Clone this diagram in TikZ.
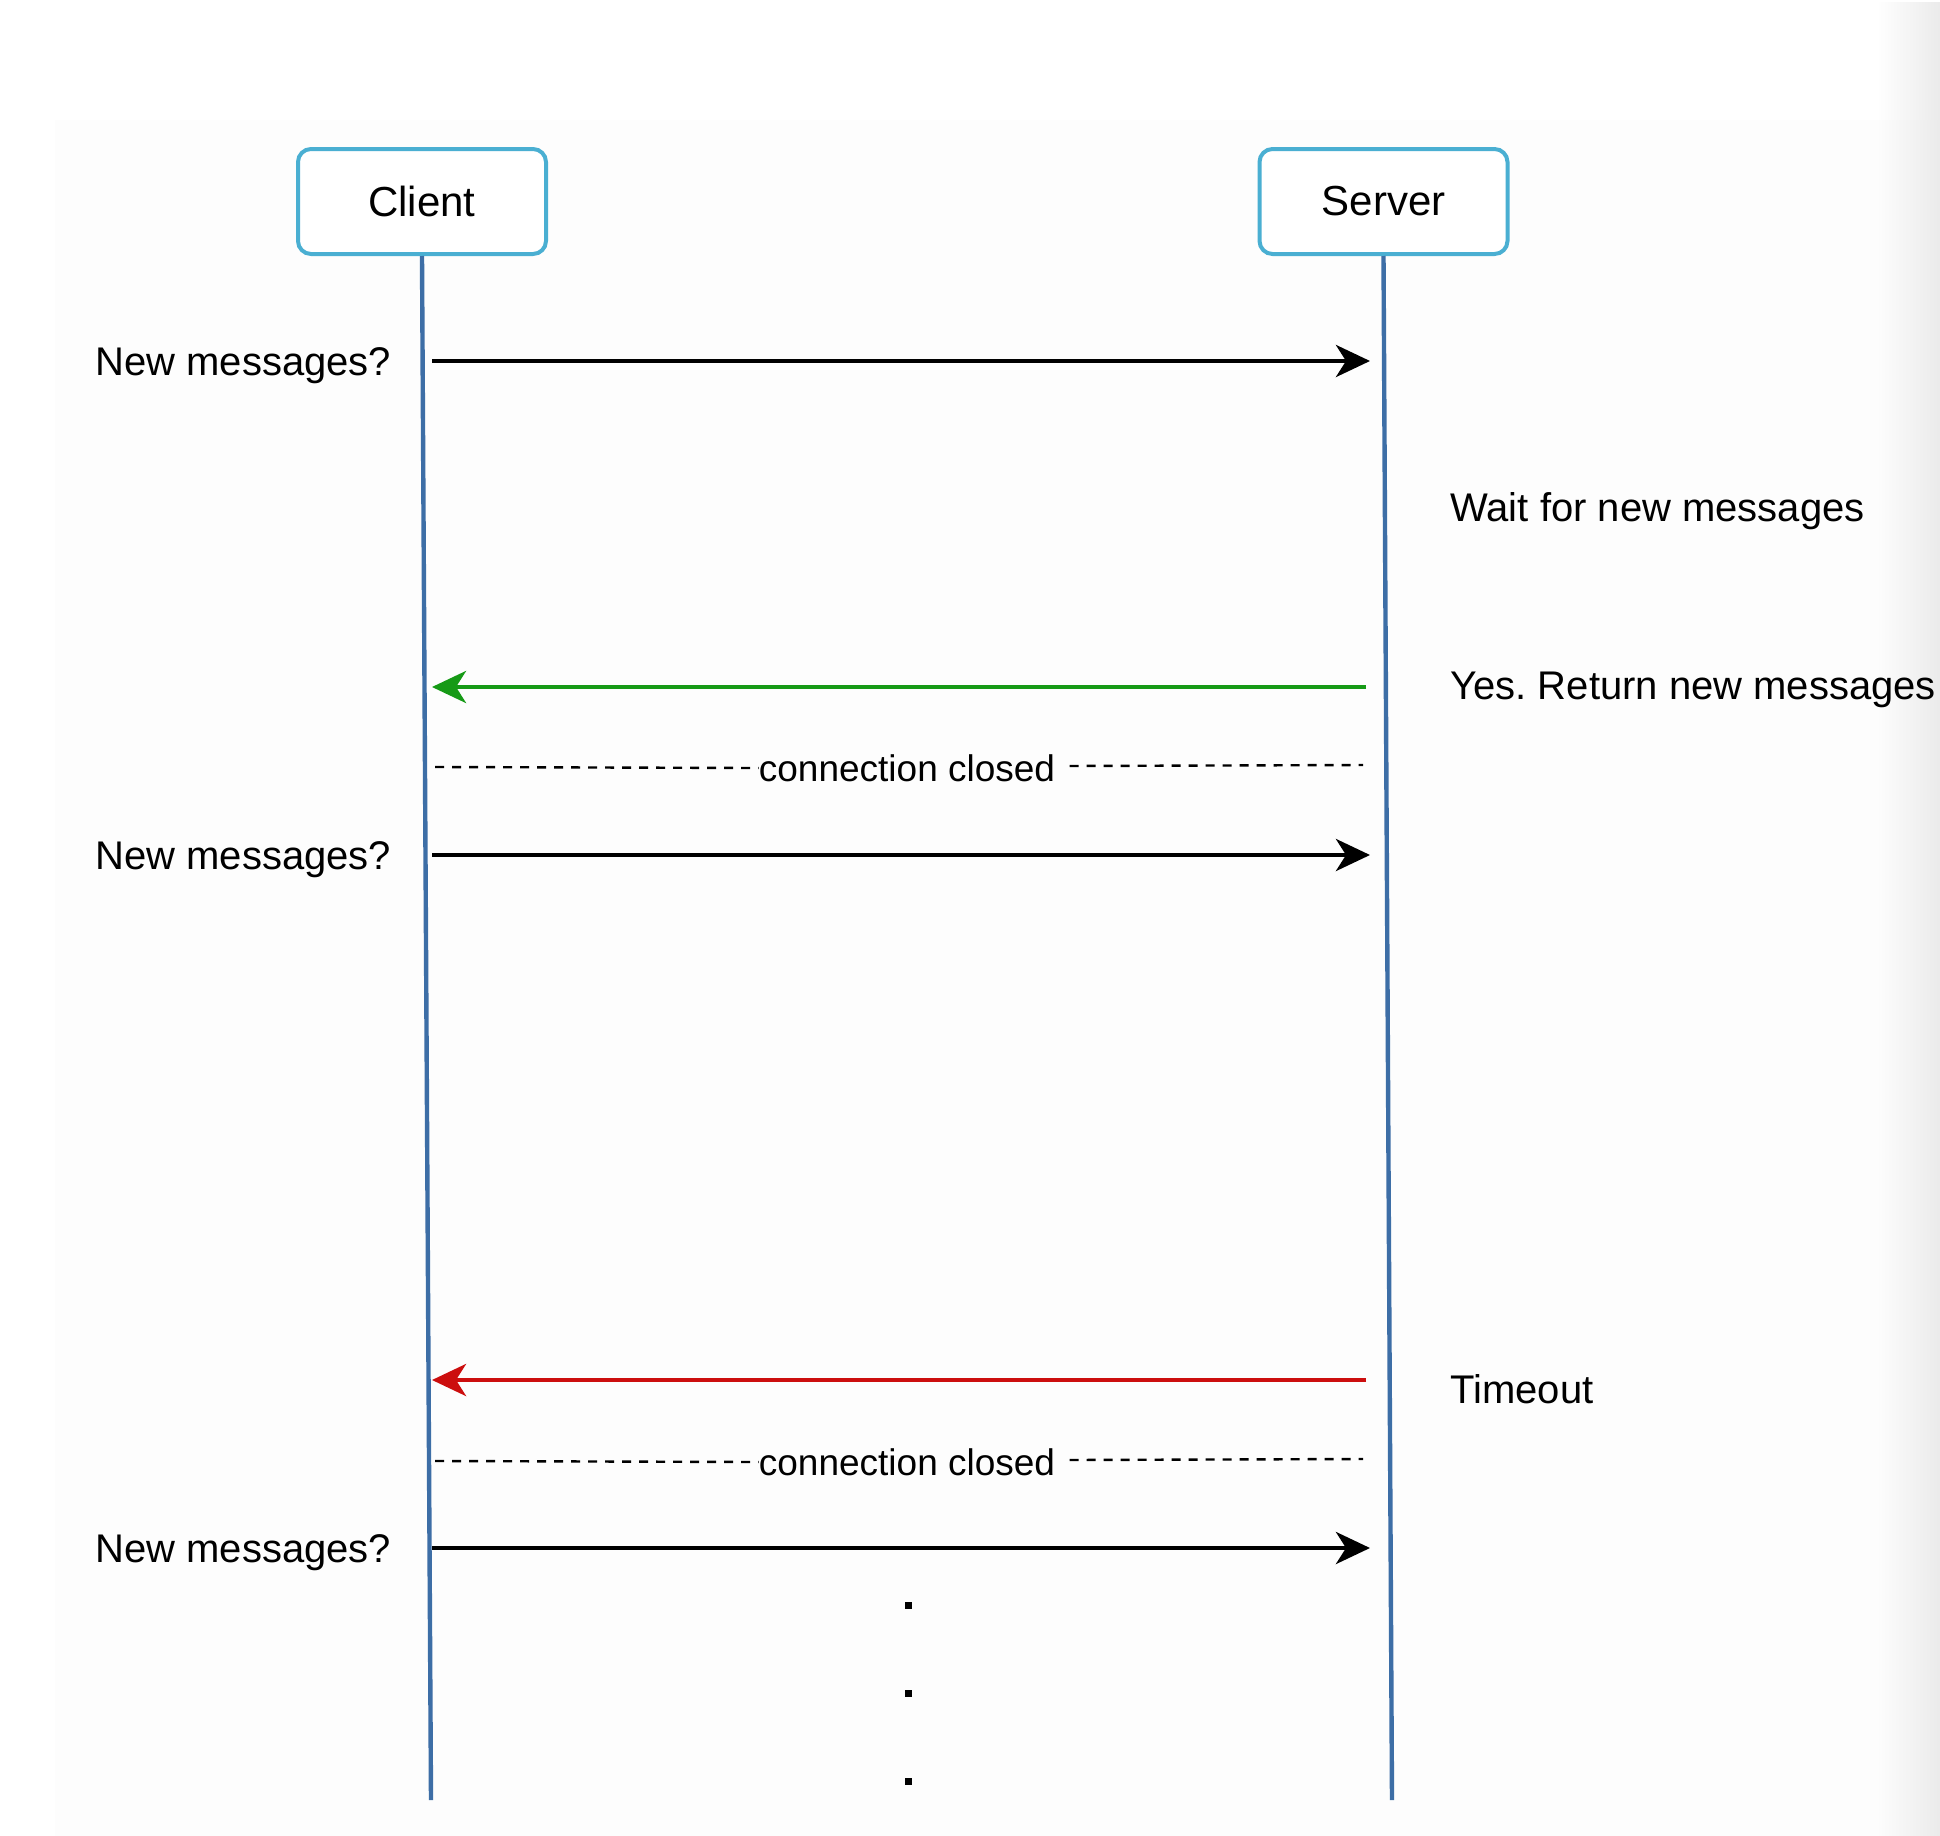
\documentclass[tikz,border=0pt]{standalone}
\usepackage{fontspec}
\setmainfont{Liberation Sans}
\usetikzlibrary{arrows.meta,fadings}
\frenchspacing
\definecolor{boxblue}{HTML}{4AAFD2}
\definecolor{lifeblue}{HTML}{3D6EA6}
\definecolor{okgreen}{HTML}{169A16}
\definecolor{errred}{HTML}{CC0E0E}
\definecolor{panel}{HTML}{FDFDFD}
\tikzset{
  actor/.style={draw=boxblue, line width=2pt, rounded corners=6.5pt, fill=white,
    minimum width=124pt, minimum height=52.5pt, inner sep=0pt, font=\fontsize{21}{25}\selectfont},
  lifeline/.style={draw=lifeblue, line width=2.2pt},
  msg/.style={line width=2.2pt, -{Stealth[length=17pt, width=16pt, inset=5pt]}},
  closed/.style={line width=1.2pt, dash pattern=on 4.5pt off 4pt},
  lbl/.style={anchor=base west, inner sep=0pt, font=\fontsize{20}{24}\selectfont},
  closedlbl/.style={inner sep=0pt, font=\fontsize{18.5}{22}\selectfont},
  dotmark/.style={fill=black, minimum size=3.5pt, inner sep=0pt}
}
\begin{document}
\begin{tikzpicture}[x=0.5pt, y=-0.5pt]
  % page and panel
  \useasboundingbox (0,0) rectangle (1940,1836);
  \fill[white] (0,0) rectangle (1940,1836);
  \fill[panel] (55,120) rectangle (1940,1836);
  \fill[black!8, path fading=west] (1878,0) rectangle (1940,1836);

  % participants
  \node[actor] (client) at (422,201.5) {Client};
  \node[actor] (server) at (1383.5,201.5) {Server};

  % lifelines
  \coordinate (clientEnd) at (431,1800);
  \coordinate (serverEnd) at (1392,1800);
  \draw[lifeline] (client.south) -- (clientEnd);
  \draw[lifeline] (server.south) -- (serverEnd);

  % first request
  \coordinate (c1) at (432,361);
  \coordinate (s1) at (1370,361);
  \draw[msg] (c1) -- (s1);
  \node[lbl] (q1) at (95,375) {New messages?};

  \node[lbl] (wait) at (1450,521) {Wait for new messages};

  % response with data
  \coordinate (s2) at (1366,687);
  \coordinate (c2) at (432,687);
  \draw[msg, okgreen] (s2) -- (c2);
  \node[lbl] (yes) at (1450,699) {Yes. Return new messages};

  % connection closed
  \node[closedlbl] (cc1) at (907,768) {connection closed};
  \coordinate (cc1a) at (435,767);
  \coordinate (cc1b) at (1363,765);
  \draw[closed] (cc1a) -- (cc1.west);
  \draw[closed] (cc1.east) ++(14,-2) -- (cc1b);

  % second request
  \coordinate (c3) at (432,855);
  \coordinate (s3) at (1370,855);
  \draw[msg] (c3) -- (s3);
  \node[lbl] (q2) at (95,869) {New messages?};

  % timeout response
  \coordinate (s4) at (1366,1380);
  \coordinate (c4) at (432,1380);
  \draw[msg, errred] (s4) -- (c4);
  \node[lbl] (tmo) at (1450,1403) {Timeout};

  % connection closed
  \node[closedlbl] (cc2) at (907,1462) {connection closed};
  \coordinate (cc2a) at (435,1461);
  \coordinate (cc2b) at (1363,1459);
  \draw[closed] (cc2a) -- (cc2.west);
  \draw[closed] (cc2.east) ++(14,-2) -- (cc2b);

  % third request
  \coordinate (c5) at (432,1548);
  \coordinate (s5) at (1370,1548);
  \draw[msg] (c5) -- (s5);
  \node[lbl] (q3) at (95,1562) {New messages?};

  % continuation dots
  \node[dotmark] (d1) at (908,1605) {};
  \node[dotmark] (d2) at (908,1693) {};
  \node[dotmark] (d3) at (908,1781) {};
\end{tikzpicture}
\end{document}
